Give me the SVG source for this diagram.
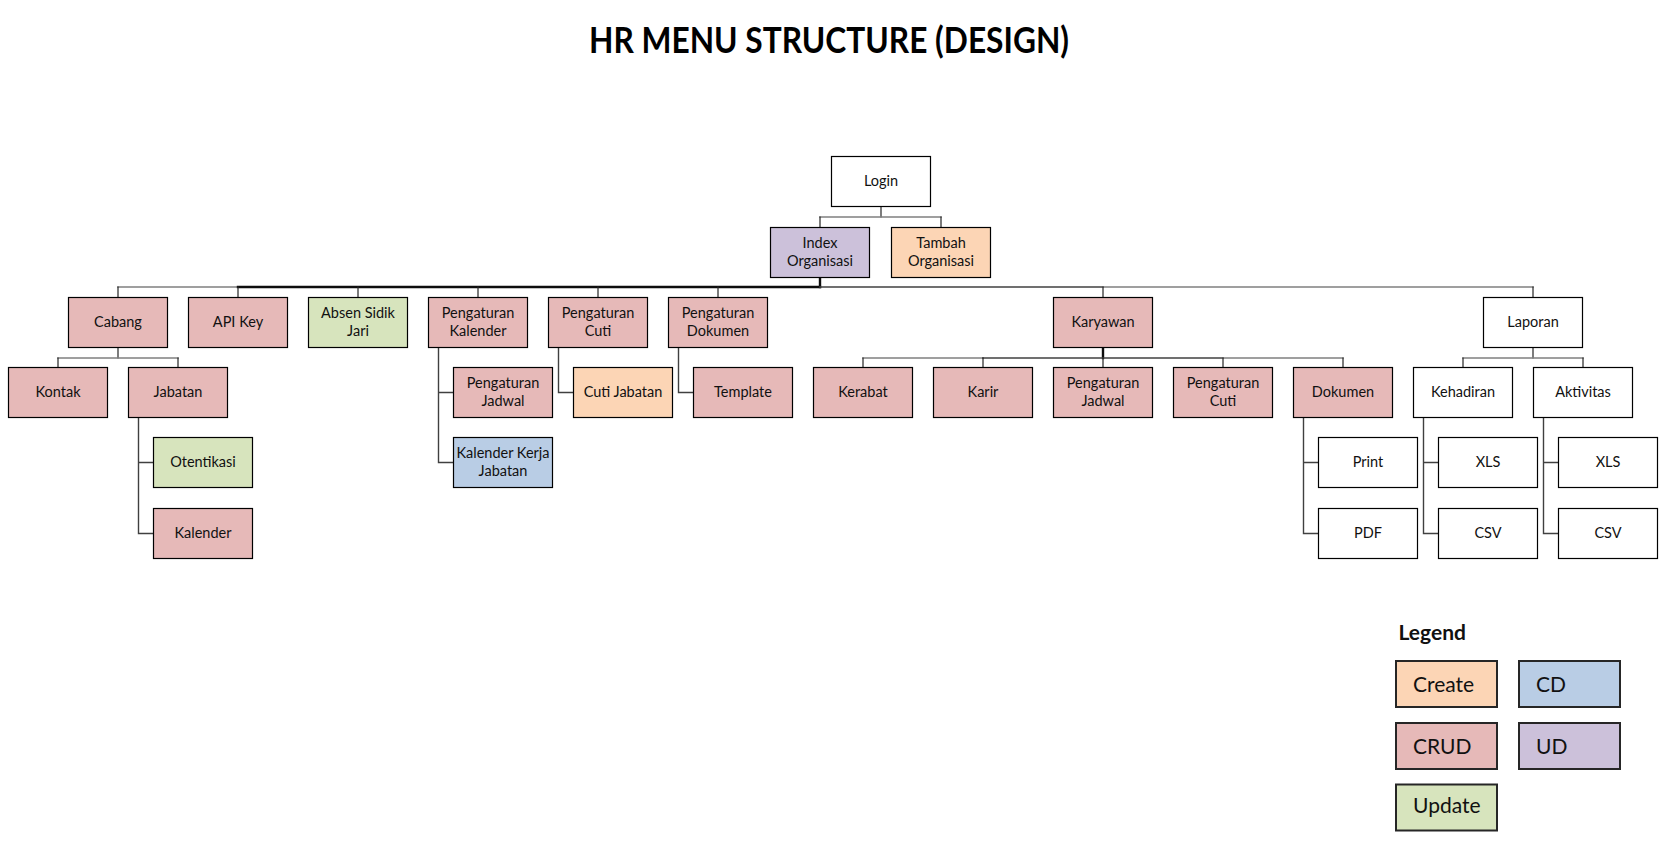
<svg xmlns="http://www.w3.org/2000/svg" width="1677" height="866" viewBox="0 0 1677 866">
<style>
.n rect{stroke:#000;stroke-width:1.2}
.w{fill:#fff}.p{fill:#E6B9B8}.o{fill:#FCD5B5}.g{fill:#D7E4BD}.b{fill:#B9CDE5}.u{fill:#CCC1DA}
.n text{font-family:Lato,"Open Sans","Liberation Sans",sans-serif;font-size:14.5px;fill:#111;text-anchor:middle}
.c path{fill:none;stroke-linecap:square}
.dk{stroke:#262626;stroke-width:1.2}
.gy{stroke:#7f7f7f;stroke-width:1.6}
.md{stroke:#404040;stroke-width:1.6}
.bk{stroke:#0d0d0d;stroke-width:2.4}
.sd{stroke:#404040;stroke-width:1.4}
.lg rect{stroke:#262626;stroke-width:2}
.lg text{font-family:Lato,"Open Sans","Liberation Sans",sans-serif;font-size:21px;fill:#111}
</style>
<rect width="1677" height="866" fill="#fff"/>
<text x="829" y="53" font-family="Lato,'Open Sans','Liberation Sans',sans-serif" font-size="36" font-weight="bold" text-anchor="middle" fill="#000" textLength="480" lengthAdjust="spacingAndGlyphs">HR MENU STRUCTURE (DESIGN)</text>

<g id="connectors" class="c">
  <!-- Login to children -->
  <path class="dk" d="M881 206.5V217"/>
  <path class="gy" d="M820 217H941"/>
  <path class="dk" d="M820 217V227.5M941 217V227.5"/>
  <!-- Index to top row -->
  <path class="bk" d="M820 277.5V287"/>
  <path class="gy" d="M118 287H238"/>
  <path class="bk" d="M238 287H820"/>
  <path class="md" d="M820 287H1103"/>
  <path class="gy" d="M1103 287H1533"/>
  <path class="dk" d="M118 287V297.5M238 287V297.5M358 287V297.5M478 287V297.5M598 287V297.5M718 287V297.5M1103 287V297.5M1533 287V297.5"/>
  <!-- Cabang -->
  <path class="dk" d="M118 347.5V358"/>
  <path class="gy" d="M58 358H178"/>
  <path class="dk" d="M58 358V367.5M178 358V367.5"/>
  <!-- Karyawan -->
  <path class="bk" d="M1103 347.5V358"/>
  <path class="gy" d="M863 358H983"/>
  <path class="md" d="M983 358H1223"/>
  <path class="gy" d="M1223 358H1343"/>
  <path class="dk" d="M863 358V367.5M983 358V367.5M1103 358V367.5M1223 358V367.5M1343 358V367.5"/>
  <!-- Laporan -->
  <path class="dk" d="M1533 347.5V358"/>
  <path class="gy" d="M1463 358H1583"/>
  <path class="dk" d="M1463 358V367.5M1583 358V367.5"/>
  <!-- side connectors -->
  <path class="sd" d="M138.5 417.5V533.5H153.5M138.5 462.5H153.5"/>
  <path class="sd" d="M438.5 347.5V462.5H453.5M438.5 392.5H453.5"/>
  <path class="sd" d="M558.5 347.5V392.5H573.5"/>
  <path class="sd" d="M678.5 347.5V392.5H693.5"/>
  <path class="sd" d="M1303.5 417.5V533.5H1318.5M1303.5 462.5H1318.5"/>
  <path class="sd" d="M1423.5 417.5V533.5H1438.5M1423.5 462.5H1438.5"/>
  <path class="sd" d="M1543.5 417.5V533.5H1558.5M1543.5 462.5H1558.5"/>
</g>

<g id="login" class="n"><rect class="w" x="831.5" y="156.5" width="99" height="50"/><text x="881" y="186">Login</text></g>
<g id="index-organisasi" class="n"><rect class="u" x="770.5" y="227.5" width="99" height="50"/><text x="820" y="247.5">Index</text><text x="820" y="265.5">Organisasi</text></g>
<g id="tambah-organisasi" class="n"><rect class="o" x="891.5" y="227.5" width="99" height="50"/><text x="941" y="247.5">Tambah</text><text x="941" y="265.5">Organisasi</text></g>

<g id="cabang" class="n"><rect class="p" x="68.5" y="297.5" width="99" height="50"/><text x="118" y="327">Cabang</text></g>
<g id="api-key" class="n"><rect class="p" x="188.5" y="297.5" width="99" height="50"/><text x="238" y="327">API Key</text></g>
<g id="absen-sidik-jari" class="n"><rect class="g" x="308.5" y="297.5" width="99" height="50"/><text x="358" y="317.5">Absen Sidik</text><text x="358" y="335.5">Jari</text></g>
<g id="pengaturan-kalender" class="n"><rect class="p" x="428.5" y="297.5" width="99" height="50"/><text x="478" y="317.5">Pengaturan</text><text x="478" y="335.5">Kalender</text></g>
<g id="pengaturan-cuti" class="n"><rect class="p" x="548.5" y="297.5" width="99" height="50"/><text x="598" y="317.5">Pengaturan</text><text x="598" y="335.5">Cuti</text></g>
<g id="pengaturan-dokumen" class="n"><rect class="p" x="668.5" y="297.5" width="99" height="50"/><text x="718" y="317.5">Pengaturan</text><text x="718" y="335.5">Dokumen</text></g>
<g id="karyawan" class="n"><rect class="p" x="1053.5" y="297.5" width="99" height="50"/><text x="1103" y="327">Karyawan</text></g>
<g id="laporan" class="n"><rect class="w" x="1483.5" y="297.5" width="99" height="50"/><text x="1533" y="327">Laporan</text></g>

<g id="kontak" class="n"><rect class="p" x="8.5" y="367.5" width="99" height="50"/><text x="58" y="397">Kontak</text></g>
<g id="jabatan" class="n"><rect class="p" x="128.5" y="367.5" width="99" height="50"/><text x="178" y="397">Jabatan</text></g>
<g id="pengaturan-jadwal-kalender" class="n"><rect class="p" x="453.5" y="367.5" width="99" height="50"/><text x="503" y="387.5">Pengaturan</text><text x="503" y="405.5">Jadwal</text></g>
<g id="cuti-jabatan" class="n"><rect class="o" x="573.5" y="367.5" width="99" height="50"/><text x="623" y="397">Cuti Jabatan</text></g>
<g id="template" class="n"><rect class="p" x="693.5" y="367.5" width="99" height="50"/><text x="743" y="397">Template</text></g>
<g id="kerabat" class="n"><rect class="p" x="813.5" y="367.5" width="99" height="50"/><text x="863" y="397">Kerabat</text></g>
<g id="karir" class="n"><rect class="p" x="933.5" y="367.5" width="99" height="50"/><text x="983" y="397">Karir</text></g>
<g id="pengaturan-jadwal-karyawan" class="n"><rect class="p" x="1053.5" y="367.5" width="99" height="50"/><text x="1103" y="387.5">Pengaturan</text><text x="1103" y="405.5">Jadwal</text></g>
<g id="pengaturan-cuti-karyawan" class="n"><rect class="p" x="1173.5" y="367.5" width="99" height="50"/><text x="1223" y="387.5">Pengaturan</text><text x="1223" y="405.5">Cuti</text></g>
<g id="dokumen" class="n"><rect class="p" x="1293.5" y="367.5" width="99" height="50"/><text x="1343" y="397">Dokumen</text></g>
<g id="kehadiran" class="n"><rect class="w" x="1413.5" y="367.5" width="99" height="50"/><text x="1463" y="397">Kehadiran</text></g>
<g id="aktivitas" class="n"><rect class="w" x="1533.5" y="367.5" width="99" height="50"/><text x="1583" y="397">Aktivitas</text></g>

<g id="otentikasi" class="n"><rect class="g" x="153.5" y="437.5" width="99" height="50"/><text x="203" y="467">Otentikasi</text></g>
<g id="kalender-kerja-jabatan" class="n"><rect class="b" x="453.5" y="437.5" width="99" height="50"/><text x="503" y="457.5">Kalender Kerja</text><text x="503" y="475.5">Jabatan</text></g>
<g id="print" class="n"><rect class="w" x="1318.5" y="437.5" width="99" height="50"/><text x="1368" y="467">Print</text></g>
<g id="xls-kehadiran" class="n"><rect class="w" x="1438.5" y="437.5" width="99" height="50"/><text x="1488" y="467">XLS</text></g>
<g id="xls-aktivitas" class="n"><rect class="w" x="1558.5" y="437.5" width="99" height="50"/><text x="1608" y="467">XLS</text></g>

<g id="kalender" class="n"><rect class="p" x="153.5" y="508.5" width="99" height="50"/><text x="203" y="538">Kalender</text></g>
<g id="pdf" class="n"><rect class="w" x="1318.5" y="508.5" width="99" height="50"/><text x="1368" y="538">PDF</text></g>
<g id="csv-kehadiran" class="n"><rect class="w" x="1438.5" y="508.5" width="99" height="50"/><text x="1488" y="538">CSV</text></g>
<g id="csv-aktivitas" class="n"><rect class="w" x="1558.5" y="508.5" width="99" height="50"/><text x="1608" y="538">CSV</text></g>

<g id="legend" class="lg">
  <text x="1398.5" y="640" font-weight="bold">Legend</text>
  <rect class="o" x="1396" y="661" width="101" height="46"/><text x="1413" y="692">Create</text>
  <rect class="b" x="1519" y="661" width="101" height="46"/><text x="1536" y="692">CD</text>
  <rect class="p" x="1396" y="723" width="101" height="46"/><text x="1413" y="754">CRUD</text>
  <rect class="u" x="1519" y="723" width="101" height="46"/><text x="1536" y="754">UD</text>
  <rect class="g" x="1396" y="784.5" width="101" height="46"/><text x="1413" y="813">Update</text>
</g>
</svg>
